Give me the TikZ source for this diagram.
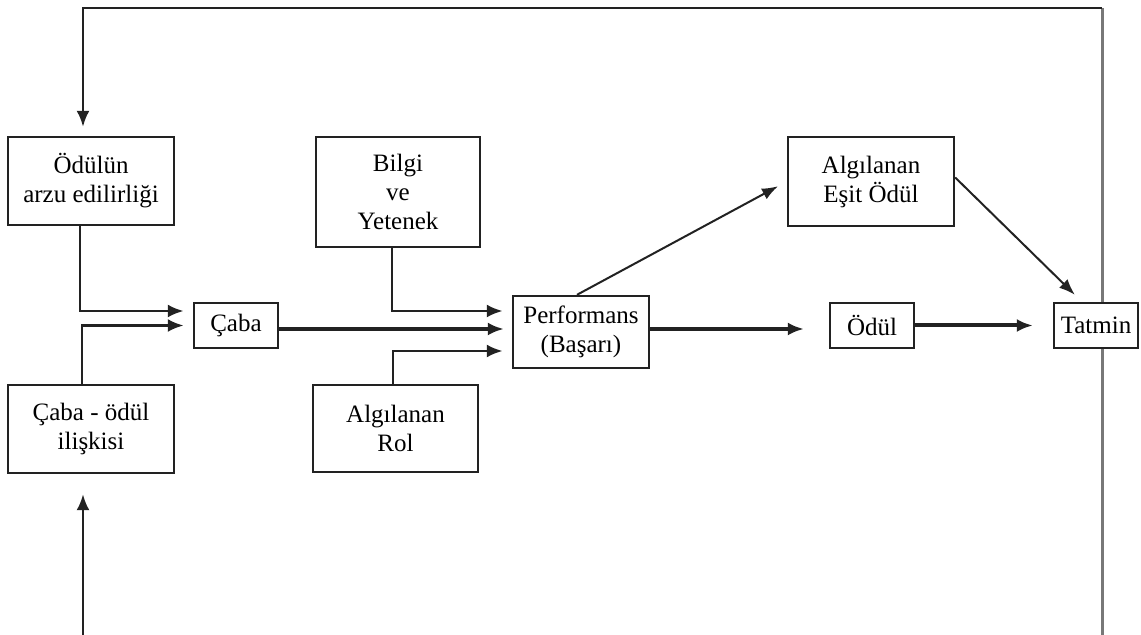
\documentclass[tikz,border=0pt]{standalone}
\usepackage{fontspec}
\setmainfont{Liberation Serif}
\usetikzlibrary{arrows.meta,positioning,calc}
\definecolor{boxline}{RGB}{34,34,34}
\definecolor{loopgray}{RGB}{120,120,120}

\begin{document}
\begin{tikzpicture}[x=0.5pt,y=-0.5pt,
  box/.style={draw=boxline,line width=1.2pt,fill=white,align=center,
    inner sep=0pt,font=\fontsize{12.5}{14.5}\selectfont},
  inflow/.style={-{Latex[length=8pt,width=6.5pt]},line width=1.4pt,
    color=boxline,shorten >=4.5pt},
  mainflow/.style={-{Latex[length=8pt,width=6.5pt]},line width=2pt,
    color=boxline},
  slant/.style={-{Latex[length=8pt,width=6pt]},line width=1pt,
    color=boxline,shorten >=5pt}]
\useasboundingbox (0,0) rectangle (1141,635);
\coordinate (botR) at (1102,635);
\coordinate (topR) at (1102,8);
\coordinate (topL) at (83,8);
\coordinate (botL) at (83,635);
\draw[line width=1.5pt,color=loopgray](botR)--(topR);
\node[box,minimum width=83pt,minimum height=44pt](odulun)
  at(91,181){Ödülün\\arzu edilirliği};
\node[box,minimum width=83pt,minimum height=44pt](cabaodul)
  at(91,429){Çaba - ödül\\ilişkisi};
\node[box,minimum width=42pt,minimum height=22.5pt](caba)
  at(236,325.5){Çaba};
\node[box,minimum width=82pt,minimum height=55pt](bilgi)
  at(398,192){Bilgi\\ve\\Yetenek};
\node[box,minimum width=82.5pt,minimum height=43.5pt](rol)
  at(395.5,428.5){Algılanan\\Rol};
\node[box,minimum width=68pt,minimum height=36pt](perf)
  at(581,332){Performans\\(Başarı)};
\node[box,minimum width=83pt,minimum height=44.5pt](esit)
  at(871,181.5){Algılanan\\Eşit Ödül};
\node[box,minimum width=42pt,minimum height=22.5pt](odul)
  at(872,325.5){Ödül};
\node[box,minimum width=42pt,minimum height=22.5pt](tatmin)
  at(1096,325.5){Tatmin};
\draw[inflow,line width=1.2pt](topR)--(topL)--(topL|-odulun.north);
\draw[inflow,line width=1.3pt,shorten >=10pt](botL)--(botL|-cabaodul.south);
\draw[inflow]([xshift=-5.5pt]odulun.south)|-([yshift=7.25pt]caba.west);
\draw[inflow]([xshift=-4.5pt]cabaodul.north)|-(caba.west);
\draw[inflow]([xshift=-3pt]bilgi.south)|-([yshift=10.5pt]perf.west);
\draw[mainflow,shorten >=4pt]([yshift=-1.75pt]caba.east)
  --([yshift=-1.75pt]caba.east-|perf.west);
\draw[inflow]([xshift=-1.25pt]rol.north)|-([yshift=-9.5pt]perf.west);
\draw[mainflow,shorten >=12.5pt]([yshift=1.5pt]perf.east)
  --([yshift=1.5pt]perf.east-|odul.west);
\draw[mainflow,shorten >=10pt](odul.east)--(tatmin.west);
\draw[slant]([xshift=-2pt]perf.north)--(esit.west);
\draw[slant]([yshift=2pt]esit.east)--([xshift=-7pt]tatmin.north);
\end{tikzpicture}
\end{document}
